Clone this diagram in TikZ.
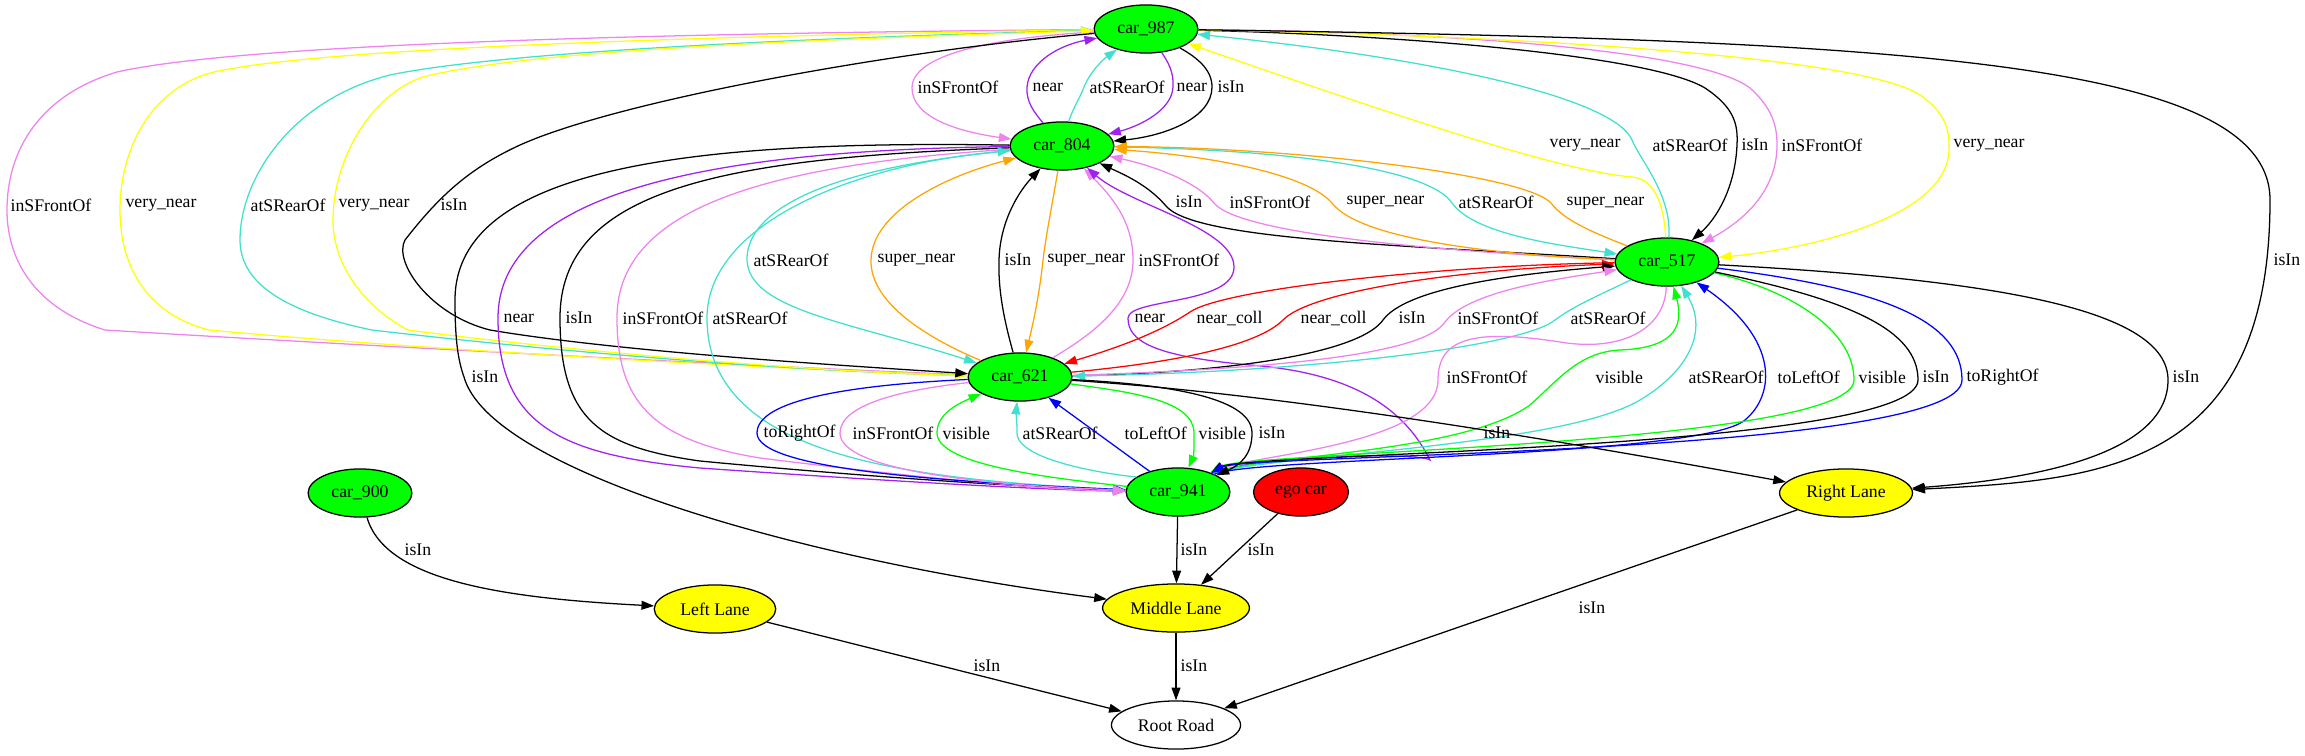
\documentclass[tikz,border=0pt]{standalone}
\usepackage{fontspec}
\setmainfont{Liberation Serif}
\usetikzlibrary{shapes.geometric,arrows.meta}
\definecolor{gvgreen}{HTML}{00FF00}
\definecolor{gvyellow}{HTML}{FFFF00}
\definecolor{gvred}{HTML}{FF0000}
\definecolor{gvblue}{HTML}{0000FF}
\definecolor{gvpurple}{HTML}{A020F0}
\definecolor{gvviolet}{HTML}{EE82EE}
\definecolor{gvturq}{HTML}{40E0D0}
\definecolor{gvorange}{HTML}{FFA500}

\begin{document}
\begin{tikzpicture}[x=0.79pt, y=-0.79pt, >={Triangle[length=10pt,width=7pt]},
  every node/.style={font=\fontsize{14}{16}\selectfont},
  car/.style={ellipse, draw, line width=1pt, fill=gvgreen, minimum width=82pt, minimum height=38pt, inner sep=0pt},
  lane/.style={ellipse, draw, line width=1pt, fill=gvyellow, minimum height=38pt, inner sep=0pt},
  lbl/.style={anchor=west, inner sep=0pt},
  rel/.style={->, line width=1pt},
  eisin/.style={rel, draw=black}, enear/.style={rel, draw=gvpurple},
  evnear/.style={rel, draw=gvyellow}, esnear/.style={rel, draw=gvorange},
  efront/.style={rel, draw=gvviolet}, erear/.style={rel, draw=gvturq},
  ecoll/.style={rel, draw=gvred}, evis/.style={rel, draw=gvgreen},
  eleft/.style={rel, draw=gvblue}, eright/.style={rel, draw=gvblue}]
\useasboundingbox (0,0) rectangle (2305,755);

\node[car] (c987) at (1146, 29) {car\_987};
\node[car] (c804) at (1062, 146) {car\_804};
\node[car] (c621) at (1020, 377) {car\_621};
\node[car] (c517) at (1667, 262) {car\_517};
\node[car] (c941) at (1178, 492) {car\_941};
\node[car] (c900) at (360, 493) {car\_900};
\node[ellipse, draw, line width=1pt, fill=gvred, minimum width=75pt, minimum height=38pt, inner sep=0pt] (ego) at (1301, 492) {ego car};

\node[lane, minimum width=96pt] (ll) at (715, 609) {Left Lane};
\node[lane, minimum width=116pt] (ml) at (1176, 608) {Middle Lane};
\node[lane, minimum width=105pt] (rl) at (1846, 493) {Right Lane};
\node[ellipse, draw, line width=1pt, minimum width=102pt, minimum height=38pt, inner sep=0pt] (road) at (1176, 725) {Root Road};

\draw[efront] (c987) .. controls (990,38) and (912,55) .. (912,88) .. controls (912,118) and (960,132) .. (c804) node[lbl] at (917,87) {inSFrontOf};
\draw[enear] (c804) .. controls (1034,112) and (1026,102) .. (1027,87) .. controls (1029,62) and (1060,45) .. (c987) node[lbl] at (1032,87) {near};
\draw[erear] (c804) .. controls (1072,110) and (1079,100) .. (1084,87) .. controls (1091,70) and (1105,58) .. (c987) node[lbl] at (1089,87) {atSRearOf};
\draw[enear] (c987) .. controls (1168,62) and (1174,72) .. (1173,87) .. controls (1172,110) and (1140,126) .. (c804) node[lbl] at (1176,87) {near};
\draw[eisin] (c987) .. controls (1198,58) and (1212,70) .. (1212,87) .. controls (1212,118) and (1165,136) .. (c804) node[lbl] at (1217,87) {isIn};

\draw[efront] (c987) .. controls (700,33) and (250,42) .. (117,72) .. controls (40,95) and (7,150) .. (7,210) .. controls (7,265) and (40,310) .. (105,330) .. controls (350,345) and (750,366) .. (c621) node[lbl] at (10,205) {inSFrontOf};
\draw[evnear] (c987) .. controls (700,36) and (320,48) .. (214,72) .. controls (150,88) and (120,150) .. (120,210) .. controls (120,270) and (150,315) .. (209,330) .. controls (400,348) and (750,368) .. (c621) node[lbl] at (125,205) {very\_near};
\draw[erear] (c621) .. controls (750,370) and (500,345) .. (372,330) .. controls (300,315) and (240,290) .. (240,240) .. controls (240,180) and (290,100) .. (390,75) .. controls (500,52) and (800,38) .. (c987) node[lbl] at (250,205) {atSRearOf};
\draw[evnear] (c621) .. controls (780,371) and (520,345) .. (408,330) .. controls (370,310) and (333,270) .. (333,220) .. controls (333,160) and (370,95) .. (423,77) .. controls (530,50) and (800,40) .. (c987) node[lbl] at (338,205) {very\_near};
\draw[eisin] (c987) .. controls (900,50) and (620,100) .. (520,145) .. controls (470,168) and (440,195) .. (405,240) .. controls (393,262) and (430,315) .. (490,330) .. controls (620,352) and (850,366) .. (c621) node[lbl] at (440,205) {isIn};

\draw[eisin] (c804) .. controls (700,140) and (455,165) .. (455,300) .. controls (455,340) and (458,360) .. (464,377) .. controls (490,470) and (800,560) .. (ml) node[lbl] at (471,377) {isIn};
\draw[enear] (c804) .. controls (700,150) and (498,195) .. (498,318) .. controls (498,425) and (560,455) .. (700,468) .. controls (900,482) and (1050,490) .. (c941) node[lbl] at (503,318) {near};
\draw[eisin] (c804) .. controls (720,158) and (560,190) .. (560,318) .. controls (560,420) and (600,447) .. (700,461) .. controls (900,480) and (1050,488) .. (c941) node[lbl] at (565,318) {isIn};
\draw[efront] (c804) .. controls (760,165) and (617,210) .. (617,318) .. controls (617,400) and (650,440) .. (760,458) .. controls (920,478) and (1050,490) .. (c941) node[lbl] at (622,318) {inSFrontOf};
\draw[erear] (c941) .. controls (900,480) and (707,455) .. (707,318) .. controls (707,225) and (850,165) .. (c804) node[lbl] at (712,318) {atSRearOf};
\draw[erear] (c804) .. controls (800,170) and (746,220) .. (747,260) .. controls (749,310) and (850,322) .. (c621) node[lbl] at (753,260) {atSRearOf};

\draw[esnear] (c621) .. controls (920,335) and (870,300) .. (871,260) .. controls (872,210) and (950,175) .. (c804) node[lbl] at (877,260) {super\_near};
\draw[eisin] (c621) .. controls (1004,320) and (998,290) .. (999,260) .. controls (1000,220) and (1020,190) .. (c804) node[lbl] at (1004,260) {isIn};
\draw[esnear] (c804) .. controls (1053,200) and (1046,235) .. (1043,260) .. controls (1040,290) and (1034,320) .. (c621) node[lbl] at (1047,260) {super\_near};
\draw[efront] (c621) .. controls (1100,330) and (1133,300) .. (1133,260) .. controls (1133,220) and (1110,195) .. (c804) node[lbl] at (1138,260) {inSFrontOf};
\draw[enear] (c941) .. controls (1250,455) and (1420,452) .. (1430,460) .. controls (1400,400) and (1340,372) .. (1250,365) .. controls (1150,356) and (1128,340) .. (1128,318) .. controls (1129,298) and (1234,305) .. (1234,267) .. controls (1234,228) and (1130,205) .. (c804) node[lbl] at (1134,318) {near};

\draw[eisin] (c517) .. controls (1400,245) and (1195,240) .. (1166,206) .. controls (1148,185) and (1125,175) .. (c804) node[lbl] at (1175,202) {isIn};
\draw[efront] (c517) .. controls (1450,252) and (1240,235) .. (1214,203) .. controls (1195,180) and (1150,165) .. (c804) node[lbl] at (1229,202) {inSFrontOf};
\draw[esnear] (c517) .. controls (1500,255) and (1360,240) .. (1332,203) .. controls (1305,172) and (1200,155) .. (c804) node[lbl] at (1346,202) {super\_near};
\draw[erear] (c804) .. controls (1300,150) and (1430,170) .. (1452,203) .. controls (1475,235) and (1560,245) .. (c517) node[lbl] at (1458,202) {atSRearOf};
\draw[esnear] (c517) .. controls (1600,235) and (1565,222) .. (1551,203) .. controls (1525,175) and (1300,148) .. (c804) node[lbl] at (1566,203) {super\_near};

\draw[evnear] (c517) .. controls (1664,205) and (1655,180) .. (1633,177) .. controls (1560,172) and (1380,110) .. (c987) node[lbl] at (1549,145) {very\_near};
\draw[erear] (c517) .. controls (1672,195) and (1640,160) .. (1632,140) .. controls (1615,100) and (1450,60) .. (c987) node[lbl] at (1652,145) {atSRearOf};
\draw[eisin] (c987) .. controls (1400,35) and (1650,55) .. (1705,88) .. controls (1735,108) and (1738,125) .. (1737,145) .. controls (1735,190) and (1715,220) .. (c517) node[lbl] at (1741,145) {isIn};
\draw[efront] (c987) .. controls (1450,32) and (1700,50) .. (1750,88) .. controls (1772,108) and (1777,125) .. (1777,145) .. controls (1777,190) and (1745,220) .. (c517) node[lbl] at (1781,145) {inSFrontOf};
\draw[evnear] (c987) .. controls (1500,35) and (1860,55) .. (1920,95) .. controls (1945,112) and (1950,130) .. (1949,150) .. controls (1947,220) and (1800,250) .. (c517) node[lbl] at (1953,145) {very\_near};
\draw[eisin] (c987) .. controls (1900,40) and (2270,60) .. (2270,200) .. controls (2270,470) and (2100,480) .. (rl) node[lbl] at (2273,260) {isIn};

\draw[ecoll] (c517) .. controls (1450,265) and (1225,288) .. (1190,312) .. controls (1160,332) and (1120,347) .. (c621) node[lbl] at (1196,318) {near\_coll};
\draw[ecoll] (c621) .. controls (1180,362) and (1258,345) .. (1283,320) .. controls (1310,292) and (1450,270) .. (c517) node[lbl] at (1300,318) {near\_coll};
\draw[eisin] (c621) .. controls (1250,372) and (1362,350) .. (1383,320) .. controls (1405,290) and (1500,275) .. (c517) node[lbl] at (1398,318) {isIn};
\draw[efront] (c621) .. controls (1300,368) and (1425,352) .. (1445,322) .. controls (1468,292) and (1550,280) .. (c517) node[lbl] at (1457,318) {inSFrontOf};
\draw[erear] (c517) .. controls (1600,295) and (1575,305) .. (1555,320) .. controls (1520,348) and (1300,372) .. (c621) node[lbl] at (1570,318) {atSRearOf};

\draw[efront] (c517) .. controls (1665,330) and (1620,352) .. (1560,342) .. controls (1470,328) and (1438,340) .. (1438,380) .. controls (1438,445) and (1250,455) .. (c941) node[lbl] at (1446,377) {inSFrontOf};
\draw[evis] (c941) .. controls (1250,455) and (1460,455) .. (1530,405) .. controls (1560,378) and (1580,352) .. (1620,350) .. controls (1670,348) and (1685,330) .. (c517) node[lbl] at (1595,377) {visible};
\draw[erear] (c941) .. controls (1250,456) and (1560,448) .. (1640,400) .. controls (1690,370) and (1708,330) .. (c517) node[lbl] at (1688,377) {atSRearOf};
\draw[eleft] (c941) .. controls (1250,457) and (1700,458) .. (1745,420) .. controls (1775,395) and (1780,340) .. (c517) node[lbl] at (1777,377) {toLeftOf};
\draw[evis] (c517) .. controls (1790,290) and (1854,330) .. (1854,380) .. controls (1854,445) and (1245,452) .. (c941) node[lbl] at (1858,377) {visible};
\draw[eisin] (c517) .. controls (1850,300) and (1918,330) .. (1918,380) .. controls (1918,450) and (1245,453) .. (c941) node[lbl] at (1922,377) {isIn};
\draw[eright] (c517) .. controls (1880,288) and (1962,320) .. (1962,380) .. controls (1962,455) and (1245,454) .. (c941) node[lbl] at (1966,377) {toRightOf};
\draw[eisin] (c517) .. controls (2000,280) and (2168,310) .. (2168,380) .. controls (2168,450) and (2050,478) .. (rl) node[lbl] at (2172,377) {isIn};

\draw[eright] (c621) .. controls (850,385) and (757,400) .. (757,433) .. controls (757,470) and (950,482) .. (c941) node[lbl] at (763,433) {toRightOf};
\draw[efront] (c621) .. controls (900,390) and (840,405) .. (840,433) .. controls (840,470) and (980,485) .. (c941) node[lbl] at (852,433) {inSFrontOf};
\draw[evis] (c941) .. controls (1050,478) and (937,465) .. (937,433) .. controls (937,415) and (955,405) .. (c621) node[lbl] at (942,433) {visible};
\draw[erear] (c941) .. controls (1140,478) and (1017,465) .. (1017,433) .. controls (1017,420) and (1016,412) .. (c621) node[lbl] at (1022,433) {atSRearOf};
\draw[eleft] (c941) -- (c621) node[lbl] at (1124,433) {toLeftOf};
\draw[evis] (c621) .. controls (1130,392) and (1194,400) .. (1194,433) .. controls (1194,445) and (1194,455) .. (c941) node[lbl] at (1198,433) {visible};
\draw[eisin] (c621) .. controls (1180,385) and (1252,400) .. (1252,433) .. controls (1252,455) and (1240,465) .. (c941) node[lbl] at (1258,433) {isIn};
\draw[eisin] (c621) .. controls (1300,395) and (1600,448) .. (rl) node[lbl] at (1483,433) {isIn};

\draw[eisin] (c900) .. controls (385,580) and (500,598) .. (ll) node[lbl] at (404,550) {isIn};
\draw[eisin] (c941) -- (ml) node[lbl] at (1180,550) {isIn};
\draw[eisin] (ego) -- (ml) node[lbl] at (1247,550) {isIn};
\draw[eisin] (ll) -- (road) node[lbl] at (973,666) {isIn};
\draw[eisin] (ml) -- (road) node[lbl] at (1180,666) {isIn};
\draw[eisin] (rl) -- (road) node[lbl] at (1578,608) {isIn};
\end{tikzpicture}
\end{document}
